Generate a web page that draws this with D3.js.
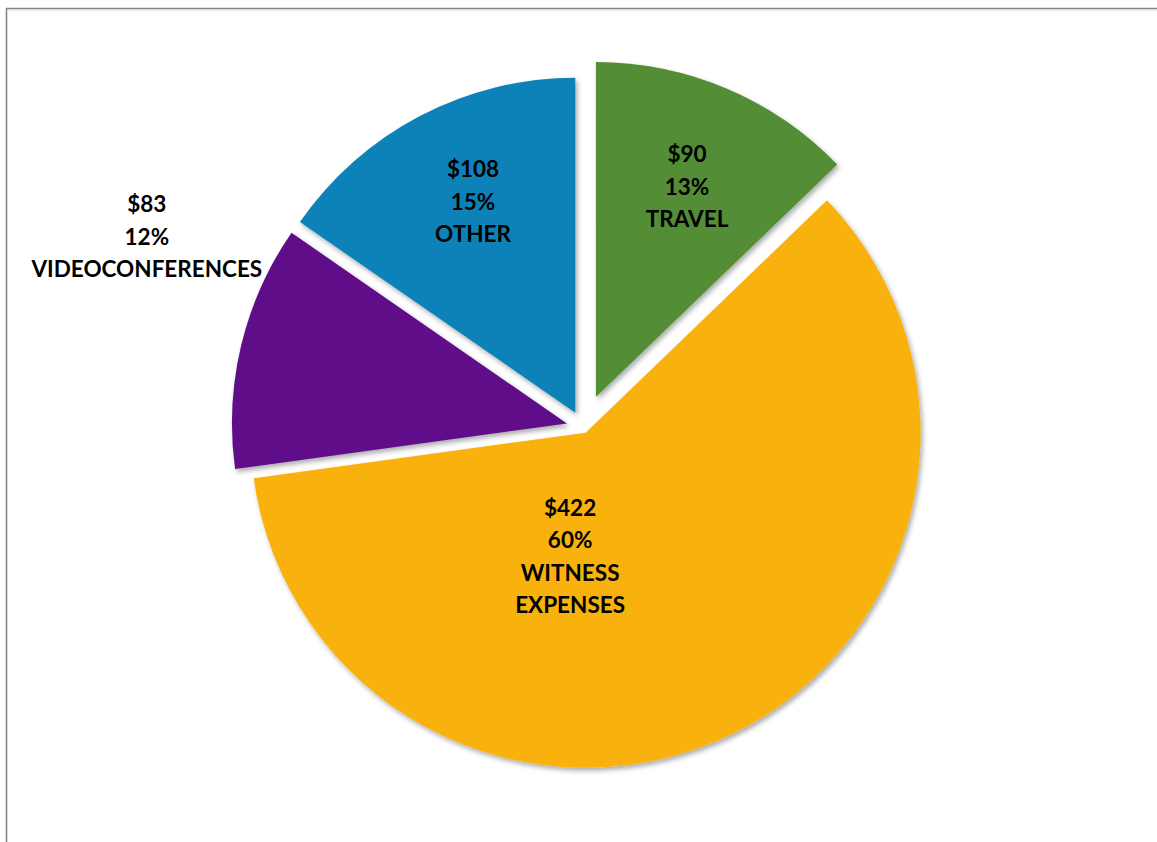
<!DOCTYPE html>
<html>
<head>
<meta charset="utf-8">
<script src="https://cdn.jsdelivr.net/npm/d3@7"></script>
<style>
  html, body { margin: 0; padding: 0; background: #ffffff; }
  svg { display: block; }
</style>
</head>
<body>
<script>
// ---- data ----
const categories = ["TRAVEL", "WITNESS EXPENSES", "VIDEOCONFERENCES", "OTHER"];
const amounts = [90, 422, 83, 108];
const percentLabels = ["13%", "60%", "12%", "15%"];
const amountLabels = ["$90", "$422", "$83", "$108"];

// ---- styles / layout ----
const W = 1157, H = 842;
const colors = ["#538D34", "#F9B20A", "#5E0D88", "#0A82B8"];
const explode = [33, 6, 16.5, 16.5];        // slice offset along mid-angle (px)
const labelRadius = [262, 130, 476, 251];    // label distance from pie centre
const labelAngleDeg = [23.4, 185.7, 293.6, 334]; // label direction
const labelLines = [["TRAVEL"], ["WITNESS", "EXPENSES"], ["VIDEOCONFERENCES"], ["OTHER"]];
const cx = 583, cy = 427.3, R = 335;
const lineGap = 32.5;

const svg = d3.select("body").append("svg").attr("width", W).attr("height", H);

const defs = svg.append("defs");
const f = defs.append("filter").attr("id", "shadow")
  .attr("x", "-10%").attr("y", "-10%").attr("width", "130%").attr("height", "130%");
f.append("feDropShadow").attr("dx", 2).attr("dy", 3).attr("stdDeviation", 2.5)
  .attr("flood-color", "#000").attr("flood-opacity", 0.33);

// chart border (frame, clipped at right/bottom)
svg.append("line").attr("x1", 6.5).attr("x2", 6.5).attr("y1", 8).attr("y2", H)
  .attr("stroke", "#868686").attr("stroke-width", 1.6);
svg.append("line").attr("x1", 6).attr("x2", W).attr("y1", 8.5).attr("y2", 8.5)
  .attr("stroke", "#868686").attr("stroke-width", 1.6);
svg.append("line").attr("x1", 8).attr("x2", W).attr("y1", 10).attr("y2", 10)
  .attr("stroke", "#d8d8d8").attr("stroke-width", 1);

const pie = d3.pie().sort(null).value(d => d)(amounts);
const arc = d3.arc().innerRadius(0).outerRadius(R);

const g = svg.append("g").attr("transform", `translate(${cx},${cy})`);

g.selectAll("path.slice").data(pie).join("path")
  .attr("class", "slice")
  .attr("d", arc)
  .attr("fill", (d, i) => colors[i])
  .attr("filter", "url(#shadow)")
  .attr("transform", (d, i) => {
    const mid = (d.startAngle + d.endAngle) / 2;
    const [x, y] = d3.pointRadial(mid, explode[i]);
    return `translate(${x},${y})`;
  });

// labels
const labels = g.selectAll("text.lbl").data(pie).join("text")
  .attr("class", "lbl")
  .attr("text-anchor", "middle")
  .attr("font-family", "Lato, 'Open Sans', sans-serif")
  .attr("font-weight", "bold")
  .attr("font-size", "22.5px")
  .attr("fill", "#000");

labels.each(function(d, i) {
  const lines = [amountLabels[i], percentLabels[i], ...labelLines[i]];
  const [lx, ly] = d3.pointRadial(labelAngleDeg[i] * Math.PI / 180, labelRadius[i]);
  const first = ly - (lines.length - 1) / 2 * lineGap + 8;
  d3.select(this).selectAll("tspan").data(lines).join("tspan")
    .attr("x", lx)
    .attr("y", (t, k) => first + k * lineGap)
    .text(t => t);
});
</script>
</body>
</html>
